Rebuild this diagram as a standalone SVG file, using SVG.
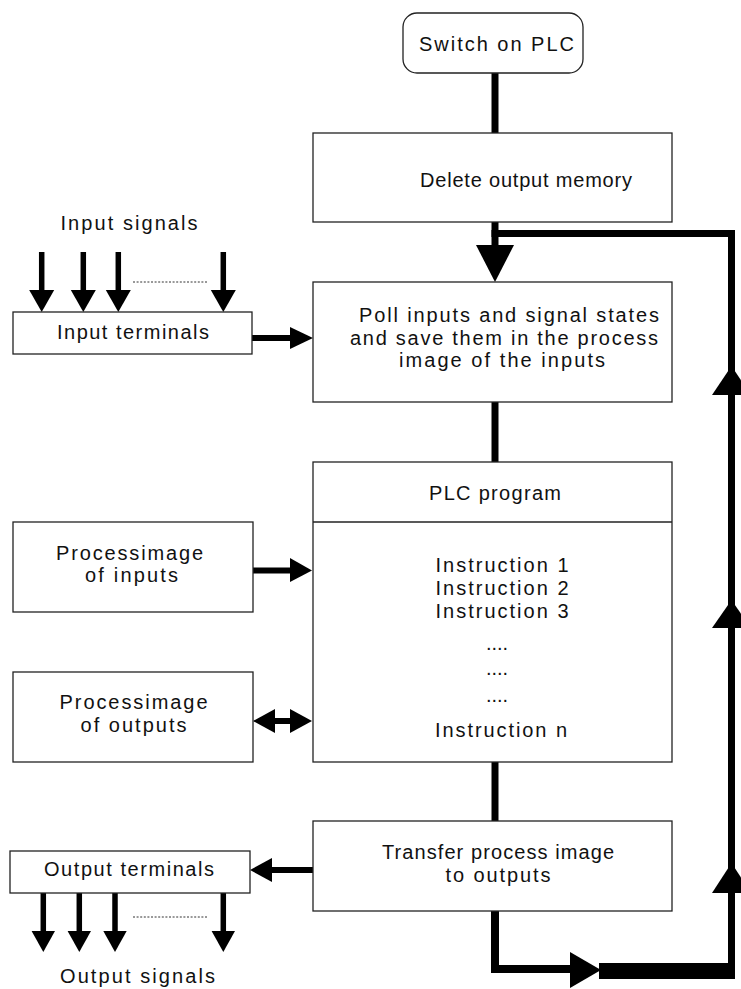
<svg xmlns="http://www.w3.org/2000/svg" width="741" height="989" viewBox="0 0 741 989">
<style>
.box{fill:#fff;stroke:#222;stroke-width:1.3}
.t{font-family:"Liberation Sans",Arial,Helvetica,sans-serif;font-size:20px;fill:#111}
.c{stroke:#000;fill:none}
.h{fill:#000;stroke:none}
.dot{stroke:#333;stroke-width:1;stroke-dasharray:2 1.6;fill:none}
</style>
<rect width="741" height="989" fill="#fff"/>

<g id="connectors">
  <path class="c" stroke-width="7" d="M495,73 V133"/>
  <path class="c" stroke-width="7" d="M495,222 V247"/>
  <polygon class="h" points="476,245 514,245 495,282"/>
  <path class="c" stroke-width="7" stroke-linejoin="miter" d="M491.5,233.5 H731.5 V979"/>
  <polygon class="h" points="712,395 751,395 731.5,366"/>
  <polygon class="h" points="712,628 751,628 731.5,600"/>
  <polygon class="h" points="712,893 751,893 731.5,863"/>
  <path class="c" stroke-width="7" d="M495,402 V462"/>
  <path class="c" stroke-width="7" d="M495,762 V821"/>
  <path class="c" stroke-width="8" stroke-linejoin="miter" d="M495,911 V969 H573"/>
  <polygon class="h" points="570,952 570,988 601,970"/>
  <rect class="h" x="599" y="963" width="136" height="16"/>

  <path class="c" stroke-width="6" d="M252,338 H292"/>
  <polygon class="h" points="290,327 290,349 313,338"/>
  <path class="c" stroke-width="6" d="M252,570.5 H292"/>
  <polygon class="h" points="290,558 290,582 312,570.5"/>
  <path class="c" stroke-width="6" d="M272,721 H292"/>
  <polygon class="h" points="253,721 275,709 275,733"/>
  <polygon class="h" points="290,709 290,733 312,721"/>
  <path class="c" stroke-width="6" d="M313,870 H270"/>
  <polygon class="h" points="272,858 272,882 250,870"/>

  <g id="input-signal-arrows">
    <path class="c" stroke-width="5.5" d="M41.7,252 V292 M83.3,252 V292 M118.3,252 V292 M223.3,252 V292"/>
    <polygon class="h" points="29.2,290 54.2,290 41.7,312"/>
    <polygon class="h" points="70.8,290 95.8,290 83.3,312"/>
    <polygon class="h" points="105.8,290 130.8,290 118.3,312"/>
    <polygon class="h" points="210.8,290 235.8,290 223.3,312"/>
    <path class="dot" d="M133,282 H208"/>
  </g>
  <g id="output-signal-arrows">
    <path class="c" stroke-width="5.5" d="M43.3,893 V933 M79.3,893 V933 M115,893 V933 M223.3,893 V933"/>
    <polygon class="h" points="31.6,931 55,931 43.3,952"/>
    <polygon class="h" points="67.6,931 91,931 79.3,952"/>
    <polygon class="h" points="103.3,931 126.7,931 115,952"/>
    <polygon class="h" points="211.6,931 235,931 223.3,952"/>
    <path class="dot" d="M133,917 H208"/>
  </g>
</g>

<g id="switch-on">
  <rect class="box" x="403" y="13" width="180" height="60" rx="14"/>
  <text class="t" x="419" y="51" textLength="155">Switch on PLC</text>
</g>
<g id="delete-output">
  <rect class="box" x="313" y="133" width="359" height="89"/>
  <text class="t" x="420" y="187" textLength="212">Delete output memory</text>
</g>
<g id="poll-inputs">
  <rect class="box" x="313" y="282" width="359" height="120"/>
  <text class="t" x="359" y="322" textLength="300">Poll inputs and signal states</text>
  <text class="t" x="350" y="345" textLength="308">and save them in the process</text>
  <text class="t" x="399" y="367" textLength="206">image of the inputs</text>
</g>
<g id="plc-program">
  <rect class="box" x="313" y="462" width="359" height="300"/>
  <line class="box" x1="313" y1="522" x2="672" y2="522"/>
  <text class="t" x="429" y="500" textLength="132">PLC program</text>
  <text class="t" x="435.5" y="572" textLength="133">Instruction 1</text>
  <text class="t" x="435.5" y="595" textLength="133">Instruction 2</text>
  <text class="t" x="435.5" y="618" textLength="133">Instruction 3</text>
  <text class="t" x="486" y="650" textLength="22">....</text>
  <text class="t" x="486" y="675" textLength="22">....</text>
  <text class="t" x="486" y="702" textLength="22">....</text>
  <text class="t" x="435" y="737" textLength="132">Instruction n</text>
</g>
<g id="transfer">
  <rect class="box" x="313" y="821" width="359" height="90"/>
  <text class="t" x="382" y="859" textLength="232">Transfer process image</text>
  <text class="t" x="445.5" y="882" textLength="105">to outputs</text>
</g>
<g id="input-signals">
  <text class="t" x="60.5" y="230" textLength="137">Input signals</text>
</g>
<g id="input-terminals">
  <rect class="box" x="13" y="312" width="239" height="42"/>
  <text class="t" x="57" y="339" textLength="152">Input terminals</text>
</g>
<g id="process-image-inputs">
  <rect class="box" x="13" y="522" width="240" height="90"/>
  <text class="t" x="56" y="560" textLength="147">Processimage</text>
  <text class="t" x="85" y="582" textLength="93">of inputs</text>
</g>
<g id="process-image-outputs">
  <rect class="box" x="13" y="672" width="240" height="90"/>
  <text class="t" x="59.5" y="709" textLength="148">Processimage</text>
  <text class="t" x="80.5" y="732" textLength="106">of outputs</text>
</g>
<g id="output-terminals">
  <rect class="box" x="10" y="851" width="240" height="42"/>
  <text class="t" x="44" y="876" textLength="170">Output terminals</text>
</g>
<g id="output-signals">
  <text class="t" x="60" y="983" textLength="155">Output signals</text>
</g>
</svg>
